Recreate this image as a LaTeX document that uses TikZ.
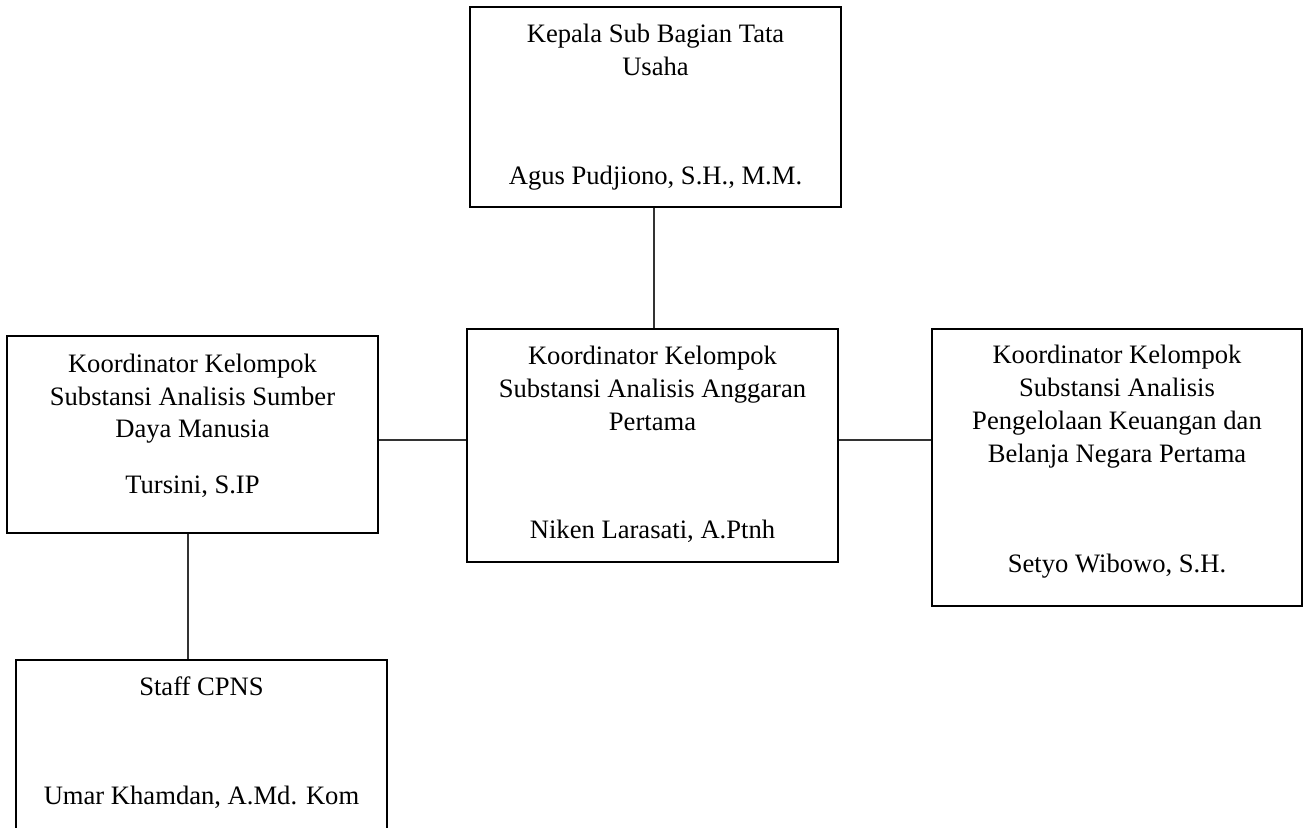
\documentclass[tikz,border=0pt]{standalone}
\usepackage{fontspec}
\setmainfont{Liberation Serif}
\begin{document}
\begin{tikzpicture}[x=1pt,y=-1pt,
  box/.style={draw=black,line width=2pt,rectangle,inner sep=0pt},
  txt/.style={anchor=base,inner sep=0pt,font=\fontsize{26.6}{33}\selectfont},
  link/.style={draw=black!80,line width=1.2pt}]
\useasboundingbox (0,0) rectangle (1303,827);
% boxes
\node[box,minimum width=371pt,minimum height=200pt] (top) at (655.5,107) {};
\node[box,minimum width=371pt,minimum height=233pt] (mid) at (652.5,445.5) {};
\node[box,minimum width=371pt,minimum height=197pt] (left) at (192.5,434.5) {};
\node[box,minimum width=370pt,minimum height=277pt] (right) at (1117,467.5) {};
\node[box,minimum width=371pt,minimum height=169.5pt] (bot) at (201.5,744.75) {};
% texts
\node[txt] (t1) at (655.5,42) {Kepala Sub Bagian Tata};
\node[txt] (t2) at (655.5,75) {Usaha};
\node[txt] (t3) at (655.5,184) {Agus Pudjiono, S.H., M.M.};
\node[txt] (m1) at (652.5,364) {Koordinator Kelompok};
\node[txt] (m2) at (652.5,397) {Substansi Analisis Anggaran};
\node[txt] (m3) at (652.5,430) {Pertama};
\node[txt] (m4) at (652.5,538) {Niken Larasati, A.Ptnh};
\node[txt] (l1) at (192.5,372) {Koordinator Kelompok};
\node[txt] (l2) at (192.5,405) {Substansi Analisis Sumber};
\node[txt] (l3) at (192.5,437) {Daya Manusia};
\node[txt] (l4) at (192.5,493) {Tursini, S.IP};
\node[txt] (r1) at (1117,363) {Koordinator Kelompok};
\node[txt] (r2) at (1117,396) {Substansi Analisis};
\node[txt] (r3) at (1117,429) {Pengelolaan Keuangan dan};
\node[txt] (r4) at (1117,462) {Belanja Negara Pertama};
\node[txt] (r5) at (1117,572) {Setyo Wibowo, S.H.};
\node[txt] (b1) at (201.5,695) {Staff CPNS};
\node[txt] (b2) at (201.5,804) {Umar Khamdan, A.Md. Kom};
% connectors
\coordinate (hl) at (0,440);
\coordinate (vb) at (188,0);
\coordinate (vt) at (654,0);
\draw[link] (top.south -| vt) -- (mid.north -| vt);
\draw[link] (left.east |- hl) -- (mid.west |- hl);
\draw[link] (mid.east |- hl) -- (right.west |- hl);
\draw[link] (left.south -| vb) -- (bot.north -| vb);
\end{tikzpicture}
\end{document}
